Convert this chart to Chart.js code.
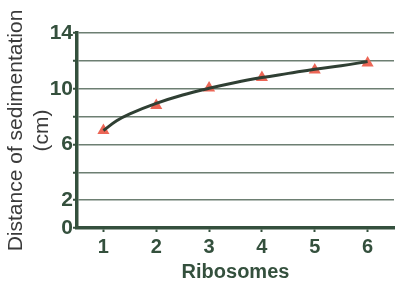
<!DOCTYPE html>
<html><head><meta charset="utf-8">
<script src="https://cdn.jsdelivr.net/npm/chart.js@4"></script>
<style>html,body{margin:0;padding:0;background:#fff}#w{width:401px;height:282px}</style>
</head><body><div id="w"><canvas id="c" width="401" height="282"></canvas></div>
<script>
const ribosomes = [1, 2, 3, 4, 5, 6];
const sedimentation = [7.0, 8.8, 10.05, 10.8, 11.35, 11.85];
const trendX = [1, 1.25, 1.5, 2, 2.5, 3, 3.5, 4, 4.5, 5, 5.5, 6];
const trendY = [7.0, 7.7, 8.2, 8.95, 9.55, 10.03, 10.45, 10.8, 11.1, 11.4, 11.65, 11.95];
const xTicks = [1, 2, 3, 4, 5, 6];
const yGridValues = [0, 2, 4, 6, 8, 10, 12, 14];
const yTickLabels = [0, 2, 6, 10, 14];
const xTitle = 'Ribosomes';
const yTitle = ['Distance of sedimentation', '(cm)'];

const dark = '#34503d';
const font = "'Liberation Sans', Arial, sans-serif";

new Chart(document.getElementById('c'), {
  type: 'scatter',
  data: {
    datasets: [
      {
        data: trendX.map((x, i) => ({x, y: trendY[i]})),
        showLine: true, borderColor: '#2f3f33', borderWidth: 3,
        pointRadius: 0, tension: 0.4, fill: false
      },
      {
        data: ribosomes.map((x, i) => ({x, y: sedimentation[i]})),
        showLine: false, pointStyle: 'triangle', pointRadius: 7,
        backgroundColor: '#ec6656', borderColor: '#ec6656', borderWidth: 0
      }
    ]
  },
  options: {
    responsive: false, animation: false,
    layout: {padding: {top: 33, right: 1, left: 0, bottom: 0}},
    plugins: {legend: {display: false}, tooltip: {enabled: false}},
    scales: {
      x: {
        type: 'linear', min: 0.5, max: 6.5,
        afterBuildTicks: s => { s.ticks = xTicks.map(v => ({value: v})); },
        afterFit: s => { s.height = 54; },
        grid: {drawOnChartArea: false, tickLength: 4, tickColor: dark, tickWidth: 2},
        border: {color: dark, width: 3.5},
        ticks: {color: dark, padding: 3, autoSkip: false, font: {family: font, size: 20, weight: 'bold'}, maxRotation: 0},
        title: {display: true, text: xTitle, color: dark, padding: {top: 0, bottom: -2},
          font: {family: font, size: 20, weight: 'bold'}}
      },
      y: {
        min: 0, max: 14,
        afterBuildTicks: s => { s.ticks = yGridValues.map(v => ({value: v})); },
        afterFit: s => { s.width = 77; },
        grid: {color: '#6d7f72', lineWidth: 1.5, tickLength: 4, tickColor: dark, tickWidth: 2},
        border: {color: dark, width: 3.5},
        ticks: {color: dark, padding: 0, autoSkip: false,
          font: {family: font, size: 21, weight: 'bold'},
          callback: v => yTickLabels.includes(v) ? String(v) : ''},
        title: {display: true, text: yTitle, color: '#3a3a3a', padding: {top: 4, bottom: 0},
          font: {family: font, size: 21}}
      }
    }
  }
});
</script></body></html>
